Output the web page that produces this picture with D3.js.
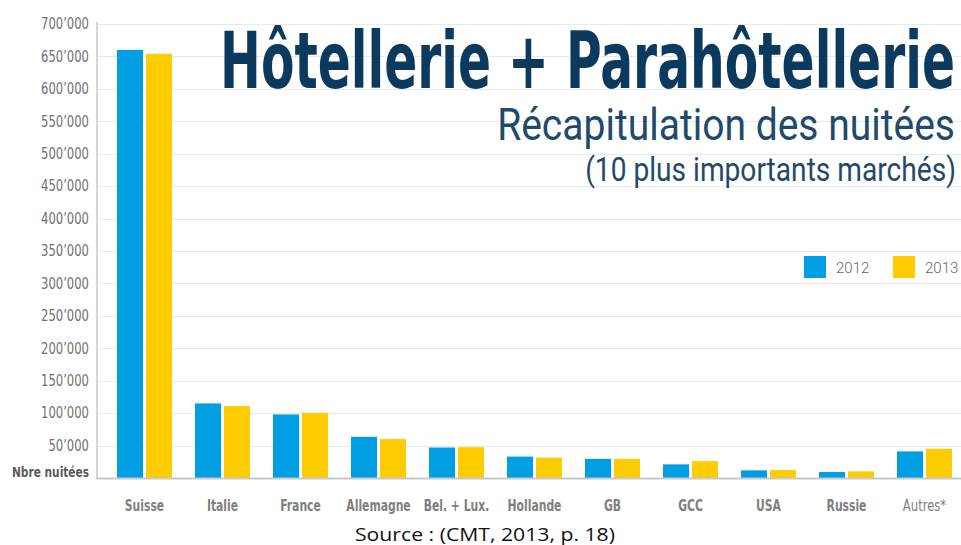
<!DOCTYPE html>
<html><head><meta charset="utf-8">
<script src="https://cdn.jsdelivr.net/npm/d3@7/dist/d3.min.js"></script>
<style>
body{margin:0;background:#fff;}
svg{display:block;}
</style></head>
<body><svg id="c" width="961" height="545"></svg>
<script>
const categories = ["Suisse","Italie","France","Allemagne","Bel. + Lux.","Hollande","GB","GCC","USA","Russie","Autres*"];
const series = ["2012","2013"];
const values2012 = [660000,115000,98000,63500,47000,33000,29500,21000,11800,9200,41000];
const values2013 = [654000,111000,100500,60000,47500,31500,29500,26000,12300,10300,45000];
const yTicks = [50000,100000,150000,200000,250000,300000,350000,400000,450000,500000,550000,600000,650000,700000];
const colors = {"2012":"#009fe3","2013":"#ffcc00"};

const svg = d3.select("#c");
const W = 961;
const x0 = d3.scaleBand().domain(categories).range([105.5, 963.5]).paddingInner(0.295).paddingOuter(0.1475);
const x1 = d3.scaleBand().domain(series).range([0, x0.bandwidth()]).paddingInner(0.1034);
const y = d3.scaleLinear().domain([0, 700000]).range([478, 24]);

const fmt = v => d3.format(",")(v).replace(/,/g, "\u2019");
const condensed = "'DejaVu Sans Condensed','Roboto','Liberation Sans Narrow',sans-serif";

// place a right-anchored text squeezed horizontally to a target width (real scale so its box is exact)
function squeezed(g, txt, xRight, yBase, targetW, style, fill) {
  const t = g.append("text").attr("x", 0).attr("y", 0).attr("fill", fill).text(txt);
  Object.entries(style).forEach(([k, v]) => t.style(k, v));
  const n = t.node().getComputedTextLength();
  const s = targetW / n;
  t.attr("text-anchor", "end").attr("transform", `translate(${xRight},${yBase}) scale(${s},1)`);
  return t;
}

// gridlines
svg.append("g").selectAll("line").data(yTicks).join("line")
  .attr("x1", 97).attr("x2", W).attr("y1", d => Math.round(y(d)) + 0.5).attr("y2", d => Math.round(y(d)) + 0.5)
  .attr("stroke", "#e9e9e9").attr("stroke-width", 1.2);

// y tick labels via axis
const yAxis = d3.axisLeft(y).tickValues(yTicks).tickFormat(fmt).tickSize(0).tickPadding(0);
const gy = svg.append("g").attr("transform", "translate(89,0)").call(yAxis);
gy.select(".domain").remove();
gy.selectAll("text").attr("fill", "#6f6f6f").style("font-family", condensed).style("font-size", "15px")
  .each(function(){ const n = this.getComputedTextLength(); d3.select(this).attr("textLength", n*0.86).attr("lengthAdjust","spacingAndGlyphs"); });

svg.append("text").attr("x", 89).attr("y", 477).attr("text-anchor", "end")
  .attr("fill", "#5a5a5a").style("font-family", condensed).style("font-size", "14px").style("font-weight", "bold")
  .attr("textLength", 77).attr("lengthAdjust", "spacingAndGlyphs").text("Nbre nuitées");

// bars
const data = categories.map((c, i) => ({cat: c, vals: [{s: "2012", v: values2012[i]}, {s: "2013", v: values2013[i]}]}));
const grp = svg.append("g").selectAll("g").data(data).join("g")
  .attr("transform", d => `translate(${x0(d.cat)},0)`);
grp.selectAll("rect").data(d => d.vals).join("rect")
  .attr("x", d => x1(d.s)).attr("width", x1.bandwidth())
  .attr("y", d => y(d.v)).attr("height", d => y(0) - y(d.v))
  .attr("fill", d => colors[d.s]);

// axis lines
svg.append("line").attr("x1", 97).attr("x2", 97).attr("y1", 22).attr("y2", 479).attr("stroke", "#d6d6d6").attr("stroke-width", 2);
svg.append("line").attr("x1", 96).attr("x2", W).attr("y1", 478.5).attr("y2", 478.5).attr("stroke", "#c8c8c8").attr("stroke-width", 2);

// x labels
const xAxis = d3.axisBottom(x0).tickSize(0).tickPadding(0);
const gx = svg.append("g").attr("transform", "translate(0,500)").call(xAxis);
gx.select(".domain").remove();
gx.selectAll("text").attr("fill", "#808080").style("font-family", condensed).style("font-size", "15px")
  .style("font-weight", d => d === "Autres*" ? "normal" : "bold")
  .each(function(d){ const n = this.getComputedTextLength(); d3.select(this).attr("textLength", n*(d==="Autres*"?0.86:0.8)).attr("lengthAdjust","spacingAndGlyphs"); });

// titles
const tg = svg.append("g");
squeezed(tg, "Hôtellerie + Parahôtellerie", 955, 88, 735,
  {"font-family": condensed, "font-size": "78px", "font-weight": "bold"}, "#0b3a5e");
squeezed(tg, "Récapitulation des nuitées", 955, 140, 458,
  {"font-family": "'Roboto','Open Sans',sans-serif", "font-size": "44px", "font-weight": "400"}, "#1f4a6a");
squeezed(tg, "(10 plus importants marchés)", 956, 181, 371,
  {"font-family": "'Roboto','Open Sans',sans-serif", "font-size": "34px", "font-weight": "400"}, "#1f4a6a");

// legend
const lg = svg.append("g").selectAll("g").data(series).join("g")
  .attr("transform", (d, i) => `translate(${804 + i*89},256)`);
lg.append("rect").attr("width", 22).attr("height", 22).attr("fill", d => colors[d]);
lg.append("text").attr("x", 32).attr("y", 17).attr("fill", "#666").style("font-family", "'Roboto',sans-serif")
  .style("font-size", "15px").style("font-weight", "300").text(d => d);

// source
svg.append("text").attr("x", 355).attr("y", 541).attr("fill", "#111").style("font-family", "'Open Sans',sans-serif")
  .style("font-size", "18px").attr("textLength", 260).attr("lengthAdjust", "spacingAndGlyphs").text("Source : (CMT, 2013, p. 18)");
</script></body></html>
